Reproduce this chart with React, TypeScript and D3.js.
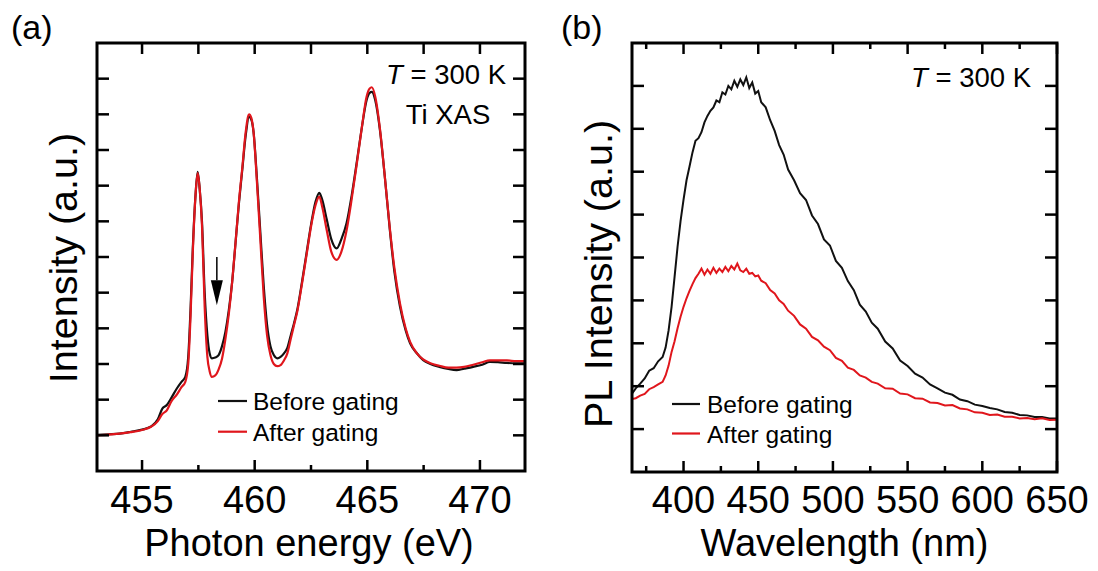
import React from 'react';
import * as d3 from 'd3';

// ---------- Panel (a): Ti XAS ----------
const xasEnergy = [453.0, 453.5, 454.0, 454.5, 455.0, 455.4, 455.7, 455.9, 456.1, 456.3, 456.55, 456.75, 456.92, 457.05, 457.15, 457.25, 457.38, 457.47, 457.56, 457.66, 457.78, 457.9, 458.0, 458.1, 458.25, 458.4, 458.55, 458.7, 458.85, 459.0, 459.15, 459.3, 459.45, 459.6, 459.75, 459.85, 459.95, 460.1, 460.25, 460.4, 460.55, 460.7, 460.85, 461.0, 461.15, 461.3, 461.45, 461.6, 461.75, 461.9, 462.1, 462.3, 462.5, 462.7, 462.87, 463.0, 463.2, 463.4, 463.64, 463.85, 464.08, 464.3, 464.53, 464.75, 464.97, 465.1, 465.2, 465.35, 465.56, 465.8, 466.0, 466.2, 466.45, 466.7, 466.9, 467.2, 467.48, 467.8, 468.2, 468.6, 468.96, 469.3, 469.7, 470.1, 470.44, 470.8, 471.2, 471.6, 472.0];
const xasBefore = [1.01, 1.03, 1.05, 1.1, 1.16, 1.25, 1.45, 1.75, 1.85, 2.05, 2.32, 2.5, 2.64, 3.2, 4.5, 6.2, 7.8, 8.39, 7.9, 7.0, 5.0, 3.8, 3.3, 3.16, 3.18, 3.25, 3.5, 3.9, 4.5, 5.3, 6.4, 7.5, 8.45, 9.4, 9.93, 9.85, 9.5, 8.2, 6.7, 5.2, 4.1, 3.5, 3.25, 3.16, 3.2, 3.3, 3.45, 3.8, 4.15, 4.55, 5.3, 6.1, 6.9, 7.55, 7.8, 7.6, 7.05, 6.5, 6.24, 6.5, 6.95, 7.7, 8.65, 9.6, 10.4, 10.6, 10.63, 10.4, 9.56, 8.1, 6.76, 5.6, 4.61, 3.95, 3.58, 3.3, 3.11, 3.0, 2.92, 2.86, 2.83, 2.87, 2.92, 2.98, 3.06, 3.05, 3.03, 3.02, 3.02];
const xasAfter = [1.0, 1.02, 1.05, 1.09, 1.15, 1.24, 1.4, 1.6, 1.7, 1.95, 2.15, 2.35, 2.5, 3.0, 4.3, 6.1, 7.8, 8.35, 7.9, 6.9, 4.6, 3.2, 2.8, 2.64, 2.68, 2.85, 3.15, 3.7, 4.4, 5.3, 6.4, 7.55, 8.5, 9.5, 10.0, 9.9, 9.5, 8.1, 6.5, 4.9, 3.8, 3.25, 3.0, 2.94, 2.97, 3.1, 3.3, 3.7, 4.1, 4.5, 5.25, 6.05, 6.85, 7.45, 7.69, 7.4, 6.75, 6.15, 5.92, 6.15, 6.75, 7.6, 8.6, 9.6, 10.5, 10.72, 10.76, 10.5, 9.6, 8.1, 6.8, 5.7, 4.7, 4.0, 3.62, 3.3, 3.13, 3.02, 2.95, 2.9, 2.9, 2.92, 2.98, 3.05, 3.1, 3.1, 3.1, 3.08, 3.08];
const xasMajorTicks = [455, 460, 465, 470];
const xasMinorTicks = [457.5, 462.5, 467.5];
const xasYTicks = [1, 2, 3, 4, 5, 6, 7, 8, 9, 10, 11];
const xasArrow = { energy: 458.32, top: 6.0, base: 5.35, tip: 4.65 };

// ---------- Panel (b): PL ----------
const plWavelength = [365, 368, 371, 374, 377, 380, 383, 386, 388, 390, 392, 394, 396, 398, 400, 402, 404, 406, 408, 410, 412, 414, 416, 418, 420, 422, 424, 426, 428, 430, 432, 434, 436, 438, 440, 442, 444, 446, 448, 450, 452, 455, 458, 461, 464, 467, 470, 474, 478, 482, 486, 490, 494, 498, 502, 506, 510, 514, 518, 522, 526, 530, 535, 540, 545, 550, 555, 560, 565, 570, 575, 580, 585, 590, 595, 600, 605, 610, 615, 620, 625, 630, 635, 640, 645, 650];
const plBefore = [1.8, 1.95, 2.06, 2.18, 2.36, 2.42, 2.58, 2.68, 2.9, 3.3, 3.85, 4.55, 5.25, 5.85, 6.35, 6.8, 7.12, 7.45, 7.72, 7.78, 7.92, 8.15, 8.3, 8.42, 8.5, 8.66, 8.62, 8.85, 8.8, 9.0, 8.92, 9.12, 8.98, 9.15, 9.02, 9.2, 8.95, 9.08, 8.82, 8.88, 8.62, 8.5, 8.2, 7.95, 7.62, 7.4, 7.05, 6.8, 6.5, 6.34, 5.98, 5.78, 5.42, 5.28, 4.92, 4.76, 4.45, 4.24, 3.9, 3.74, 3.48, 3.34, 3.04, 2.88, 2.6, 2.47, 2.29, 2.2, 2.04, 1.95, 1.85, 1.8, 1.69, 1.65, 1.57, 1.54, 1.49, 1.46, 1.4, 1.38, 1.33, 1.32, 1.28, 1.28, 1.25, 1.25];
const plAfter = [1.7, 1.72, 1.78, 1.82, 1.93, 1.98, 2.04, 2.1, 2.25, 2.48, 2.8, 3.05, 3.35, 3.62, 3.85, 4.05, 4.22, 4.38, 4.52, 4.62, 4.74, 4.6, 4.72, 4.62, 4.76, 4.64, 4.74, 4.66, 4.78, 4.68, 4.8, 4.72, 4.86, 4.7, 4.66, 4.74, 4.62, 4.64, 4.56, 4.58, 4.46, 4.4, 4.24, 4.16, 4.0, 3.92, 3.76, 3.64, 3.44, 3.34, 3.15, 3.07, 2.92, 2.84, 2.66, 2.59, 2.43, 2.38, 2.25, 2.2, 2.1, 2.06, 1.95, 1.94, 1.83, 1.81, 1.72, 1.71, 1.62, 1.61, 1.55, 1.56, 1.48, 1.46, 1.39, 1.38, 1.33, 1.34, 1.29, 1.29, 1.25, 1.26, 1.23, 1.25, 1.21, 1.22];
const plMajorTicks = [400, 450, 500, 550, 600, 650];
const plMinorTicks = [375, 425, 475, 525, 575, 625];
const plYTicks = [1, 2, 3, 4, 5, 6, 7, 8, 9];

const legendLabels = ['Before gating', 'After gating'];
const seriesColors = ['#111111', '#e0161c'];

const FONT = "Arial, 'Liberation Sans', Helvetica, sans-serif";

type Panel = {
  left: number; right: number; top: number; bottom: number;
};

function Frame({ p }: { p: Panel }) {
  return (
    <rect x={p.left} y={p.top} width={p.right - p.left} height={p.bottom - p.top}
      fill="none" stroke="#000" strokeWidth={3} />
  );
}

export default function App() {
  const W = 1098, H = 571;

  // panel a
  const pa: Panel = { left: 97, right: 525, top: 43, bottom: 471 };
  const xa = d3.scaleLinear().domain([453, 472]).range([pa.left, pa.right]);
  const ya = d3.scaleLinear().domain([0, 12]).range([pa.bottom, pa.top]);
  const lineA = d3.line<number>()
    .x((_, i) => xa(xasEnergy[i]))
    .curve(d3.curveMonotoneX);
  const pathABefore = lineA.y((v) => ya(v))(xasBefore) || '';
  const pathAAfter = lineA.y((v) => ya(v))(xasAfter) || '';

  // panel b
  const pb: Panel = { left: 632, right: 1057, top: 43, bottom: 472 };
  const xb = d3.scaleLinear().domain([365.5, 650]).range([pb.left, pb.right]);
  const yb = d3.scaleLinear().domain([0, 10]).range([pb.bottom, pb.top]);
  const lineB = d3.line<number>()
    .x((_, i) => xb(plWavelength[i]))
    .y((v) => yb(v))
    .curve(d3.curveLinear);
  const pathBBefore = lineB(plBefore) || '';
  const pathBAfter = lineB(plAfter) || '';

  const major = 11, minor = 6, ytick = 12;

  const ax = xa(xasArrow.energy);

  return (
    <svg width={W} height={H} style={{ position: 'absolute', left: 0, top: 0, background: '#fff' }}
      fontFamily={FONT}>
      <rect x={0} y={0} width={W} height={H} fill="#fff" />
      <defs>
        <clipPath id="clipA"><rect x={pa.left} y={pa.top} width={pa.right - pa.left} height={pa.bottom - pa.top} /></clipPath>
        <clipPath id="clipB"><rect x={pb.left} y={pb.top} width={pb.right - pb.left} height={pb.bottom - pb.top} /></clipPath>
      </defs>
      {/* panel labels */}
      <text x={11} y={39} fontSize={34}>(a)</text>
      <text x={561} y={39} fontSize={34}>(b)</text>

      {/* ===== Panel a ===== */}
      <g clipPath="url(#clipA)">
        <path d={pathABefore} fill="none" stroke={seriesColors[0]} strokeWidth={2.2} />
        <path d={pathAAfter} fill="none" stroke={seriesColors[1]} strokeWidth={2.2} />
      </g>
      {/* arrow */}
      <line x1={ax} x2={ax} y1={ya(xasArrow.top)} y2={ya(xasArrow.base)} stroke="#000" strokeWidth={1.5} />
      <path d={`M${ax - 6},${ya(xasArrow.base)} L${ax + 6},${ya(xasArrow.base)} L${ax},${ya(xasArrow.tip)} Z`} fill="#000" />

      {/* ticks a */}
      {xasMajorTicks.map((t) => (
        <g key={'am' + t}>
          <line x1={xa(t)} x2={xa(t)} y1={pa.bottom} y2={pa.bottom - major} stroke="#000" strokeWidth={2.5} />
          <line x1={xa(t)} x2={xa(t)} y1={pa.top} y2={pa.top + major} stroke="#000" strokeWidth={2.5} />
          <text x={xa(t)} y={513} fontSize={38} textAnchor="middle">{t}</text>
        </g>
      ))}
      {xasMinorTicks.map((t) => (
        <g key={'an' + t}>
          <line x1={xa(t)} x2={xa(t)} y1={pa.bottom} y2={pa.bottom - minor} stroke="#000" strokeWidth={2.5} />
          <line x1={xa(t)} x2={xa(t)} y1={pa.top} y2={pa.top + major} stroke="#000" strokeWidth={2.5} />
        </g>
      ))}
      {xasYTicks.map((t) => (
        <g key={'ay' + t}>
          <line x1={pa.left} x2={pa.left + ytick} y1={ya(t)} y2={ya(t)} stroke="#000" strokeWidth={2.5} />
          <line x1={pa.right} x2={pa.right - ytick} y1={ya(t)} y2={ya(t)} stroke="#000" strokeWidth={2.5} />
        </g>
      ))}
      <Frame p={pa} />
      <text x={(pa.left + pa.right) / 2 - 2} y={556} fontSize={38} textAnchor="middle">Photon energy (eV)</text>
      <text transform={`translate(77,258) rotate(-90)`} fontSize={39.5} textAnchor="middle">Intensity (a.u.)</text>
      <text x={446} y={84} fontSize={27.5} textAnchor="middle"><tspan fontStyle="italic">T</tspan> = 300 K</text>
      <text x={448} y={124} fontSize={27.5} textAnchor="middle">Ti XAS</text>
      {legendLabels.map((l, i) => (
        <g key={'la' + l}>
          <line x1={218} x2={247} y1={401 + i * 30.7} y2={401 + i * 30.7} stroke={seriesColors[i]} strokeWidth={2.2} />
          <text x={253} y={410 + i * 30.7} fontSize={24.5}>{l}</text>
        </g>
      ))}

      {/* ===== Panel b ===== */}
      <g clipPath="url(#clipB)">
        <path d={pathBBefore} fill="none" stroke={seriesColors[0]} strokeWidth={2} />
        <path d={pathBAfter} fill="none" stroke={seriesColors[1]} strokeWidth={2} />
      </g>
      {plMajorTicks.map((t) => (
        <g key={'bm' + t}>
          <line x1={xb(t)} x2={xb(t)} y1={pb.bottom} y2={pb.bottom - major} stroke="#000" strokeWidth={2.5} />
          <line x1={xb(t)} x2={xb(t)} y1={pb.top} y2={pb.top + major} stroke="#000" strokeWidth={2.5} />
          <text x={xb(t)} y={513} fontSize={38} textAnchor="middle">{t}</text>
        </g>
      ))}
      {plMinorTicks.map((t) => (
        <g key={'bn' + t}>
          <line x1={xb(t)} x2={xb(t)} y1={pb.bottom} y2={pb.bottom - minor} stroke="#000" strokeWidth={2.5} />
          <line x1={xb(t)} x2={xb(t)} y1={pb.top} y2={pb.top + minor} stroke="#000" strokeWidth={2.5} />
        </g>
      ))}
      {plYTicks.map((t) => (
        <g key={'by' + t}>
          <line x1={pb.left} x2={pb.left + ytick} y1={yb(t)} y2={yb(t)} stroke="#000" strokeWidth={2.5} />
          <line x1={pb.right} x2={pb.right - ytick} y1={yb(t)} y2={yb(t)} stroke="#000" strokeWidth={2.5} />
        </g>
      ))}
      <Frame p={pb} />
      <text x={(pb.left + pb.right) / 2} y={556} fontSize={38} textAnchor="middle">Wavelength (nm)</text>
      <text transform={`translate(612,274) rotate(-90)`} fontSize={39.5} textAnchor="middle">PL Intensity (a.u.)</text>
      <text x={971} y={87} fontSize={27.5} textAnchor="middle"><tspan fontStyle="italic">T</tspan> = 300 K</text>
      {legendLabels.map((l, i) => (
        <g key={'lb' + l}>
          <line x1={672} x2={700} y1={404 + i * 29.5} y2={404 + i * 29.5} stroke={seriesColors[i]} strokeWidth={2.2} />
          <text x={707} y={413 + i * 29.5} fontSize={24.5}>{l}</text>
        </g>
      ))}
    </svg>
  );
}
